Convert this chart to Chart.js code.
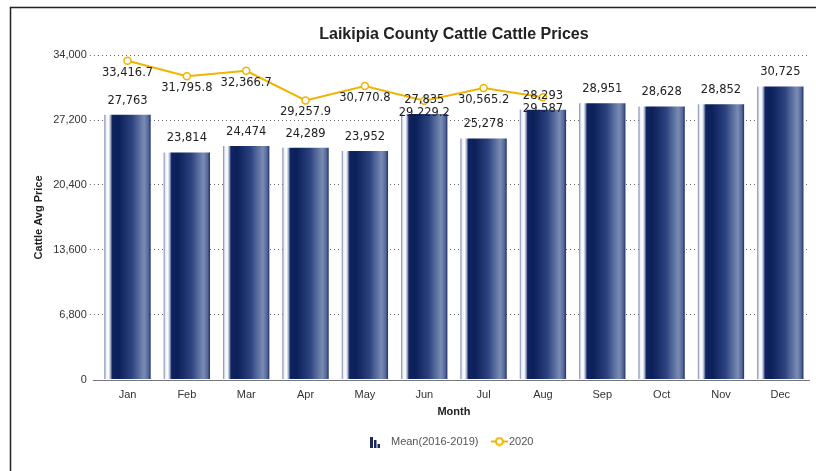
<!DOCTYPE html>
<html>
<head>
<meta charset="utf-8">
<script src="https://cdn.jsdelivr.net/npm/chart.js@4.4.1/dist/chart.umd.min.js"></script>
<style>
  html, body { margin: 0; padding: 0; background: #fff; }
  #wrap { width: 816px; height: 471px; position: relative; }
</style>
</head>
<body>
<div id="wrap"><canvas id="chart" width="816" height="471"></canvas></div>
<script>
const months = ['Jan', 'Feb', 'Mar', 'Apr', 'May', 'Jun', 'Jul', 'Aug', 'Sep', 'Oct', 'Nov', 'Dec']
const meanPrices = [27763, 23814, 24474, 24289, 23952, 27835, 25278, 28293, 28951, 28628, 28852, 30725]
const prices2020 = [33416.7, 31795.8, 32366.7, 29257.9, 30770.8, 29229.2, 30565.2, 29587, null, null, null, null]
const yTicks = [0, 6800, 13600, 20400, 27200, 34000]

const GOLD = '#f0b400'
const FONT = '"Liberation Sans", Arial, sans-serif'

// cylinder-ish shading across each bar
const barFill = (c) => {
    const chart = c.chart
    if (!chart.chartArea || c.dataIndex === undefined) return '#14285f'
    const xs = chart.scales.x
    const cx = xs.getPixelForValue(c.dataIndex)
    const w = (xs.width / months.length) * 0.78
    const g = chart.ctx.createLinearGradient(cx - w / 2, 0, cx + w / 2, 0)
    g.addColorStop(0, '#6d7ca3')
    g.addColorStop(0.04, '#eef1f7')
    g.addColorStop(0.09, '#ffffff')
    g.addColorStop(0.13, '#a9b4cc')
    g.addColorStop(0.17, '#102464')
    g.addColorStop(0.3, '#0b1f58')
    g.addColorStop(0.6, '#2c4380')
    g.addColorStop(0.86, '#7a8cb3')
    g.addColorStop(0.95, '#55679a')
    g.addColorStop(1, '#1c2f66')
    return g
}

// legend icons (bar icon sits left in its canvas to leave a gap before the text)
const barIcon = document.createElement('canvas')
barIcon.width = 20; barIcon.height = 13
let ic = barIcon.getContext('2d')
ic.fillStyle = '#1a2a5e'
ic.fillRect(0, 2, 3, 11)
ic.fillRect(4, 5, 2.5, 8)
ic.fillRect(7.5, 9, 2.5, 4)

// line icon pushed right inside its canvas
const lineIcon = document.createElement('canvas')
lineIcon.width = 26; lineIcon.height = 10
ic = lineIcon.getContext('2d')
ic.strokeStyle = GOLD
ic.lineWidth = 2
ic.beginPath(); ic.moveTo(6, 5); ic.lineTo(23, 5); ic.stroke()
ic.fillStyle = '#fff'
ic.beginPath(); ic.arc(14.5, 5, 3.5, 0, Math.PI * 2); ic.fill(); ic.stroke()

const fmt = (v) => v.toLocaleString('en-US', { maximumFractionDigits: 1 })

const valueLabels = {
    id: 'valueLabels',
    afterDatasetsDraw(chart) {
        const ctx = chart.ctx
        ctx.save()
        ctx.font = '11.5px "DejaVu Sans", sans-serif'
        ctx.fillStyle = '#222'
        ctx.textAlign = 'center'
        ctx.textBaseline = 'middle'
        chart.getDatasetMeta(0).data.forEach((el, i) => {
            ctx.fillText(fmt(meanPrices[i]), el.x, el.y - 14)
        })
        chart.getDatasetMeta(1).data.forEach((el, i) => {
            if (prices2020[i] == null) return
            ctx.fillText(fmt(prices2020[i]), el.x, el.y + 12)
        })
        ctx.restore()
    }
}

const frame = {
    id: 'frame',
    afterDraw(chart) {
        const ctx = chart.ctx
        ctx.save()
        ctx.strokeStyle = '#222'
        ctx.lineWidth = 1.5
        ctx.beginPath()
        ctx.moveTo(10.5, 471)
        ctx.lineTo(10.5, 7.5)
        ctx.lineTo(816, 7.5)
        ctx.stroke()
        // solid zero line
        const a = chart.chartArea
        const y0 = Math.round(chart.scales.y.getPixelForValue(0)) + 0.5
        ctx.strokeStyle = '#777'
        ctx.lineWidth = 1
        ctx.beginPath()
        ctx.moveTo(a.left - 5, y0)
        ctx.lineTo(a.right, y0)
        ctx.stroke()
        ctx.restore()
    }
}

new Chart(document.getElementById('chart'), {
    data: {
        labels: months,
        datasets: [{
            type: 'bar',
            label: 'Mean(2016-2019)',
            data: meanPrices,
            backgroundColor: barFill,
            barPercentage: 0.78,
            categoryPercentage: 1,
            order: 1
        }, {
            type: 'line',
            label: '2020',
            data: prices2020,
            borderColor: GOLD,
            borderWidth: 2,
            pointRadius: 3.5,
            pointBorderWidth: 1.5,
            pointBackgroundColor: '#fff',
            pointBorderColor: GOLD,
            tension: 0,
            spanGaps: false,
            order: 0
        }]
    },
    options: {
        responsive: false,
        animation: false,
        layout: { padding: { left: 28, right: 6, top: 14, bottom: 14 } },
        plugins: {
            title: {
                display: true,
                fullSize: false,
                text: 'Laikipia County Cattle Cattle Prices',
                color: '#222',
                font: { family: FONT, size: 16, weight: 'bold' },
                padding: { top: 11, bottom: 11 }
            },
            legend: {
                position: 'bottom',
                fullSize: false,
                labels: {
                    usePointStyle: true,
                    boxWidth: 14,
                    color: '#555',
                    font: { family: FONT, size: 11 },
                    padding: 14,
                    sort: (a, b) => a.datasetIndex - b.datasetIndex,
                    generateLabels: (chart) => Chart.defaults.plugins.legend.labels.generateLabels(chart).map((l) => {
                        l.pointStyle = l.datasetIndex === 0 ? barIcon : lineIcon
                        return l
                    })
                }
            },
            tooltip: { enabled: false }
        },
        scales: {
            x: {
                grid: { display: false },
                border: { display: false },
                ticks: { color: '#333', font: { family: FONT, size: 11 }, padding: 1 },
                title: {
                    display: true,
                    text: 'Month',
                    color: '#222',
                    font: { family: FONT, size: 11, weight: 'bold' },
                    padding: { top: 3, bottom: 3 }
                }
            },
            y: {
                min: 0,
                max: 34000,
                afterBuildTicks: (axis) => { axis.ticks = yTicks.map((v) => ({ value: v })) },
                grid: {
                    color: (c) => c.tick && c.tick.value === 0 ? 'rgba(0,0,0,0)' : '#666',
                    lineWidth: 1, tickLength: 8, drawTicks: true, tickBorderDash: [1, 3]
                },
                border: { display: false, dash: [1, 3] },
                ticks: {
                    color: '#333',
                    font: { family: FONT, size: 11 },
                    padding: 3,
                    callback: (v) => v.toLocaleString('en-US')
                },
                title: {
                    display: true,
                    text: 'Cattle Avg Price',
                    color: '#222',
                    font: { family: FONT, size: 11, weight: 'bold' },
                    padding: { top: 4, bottom: 5 }
                }
            }
        }
    },
    plugins: [valueLabels, frame]
})
</script>
</body>
</html>
